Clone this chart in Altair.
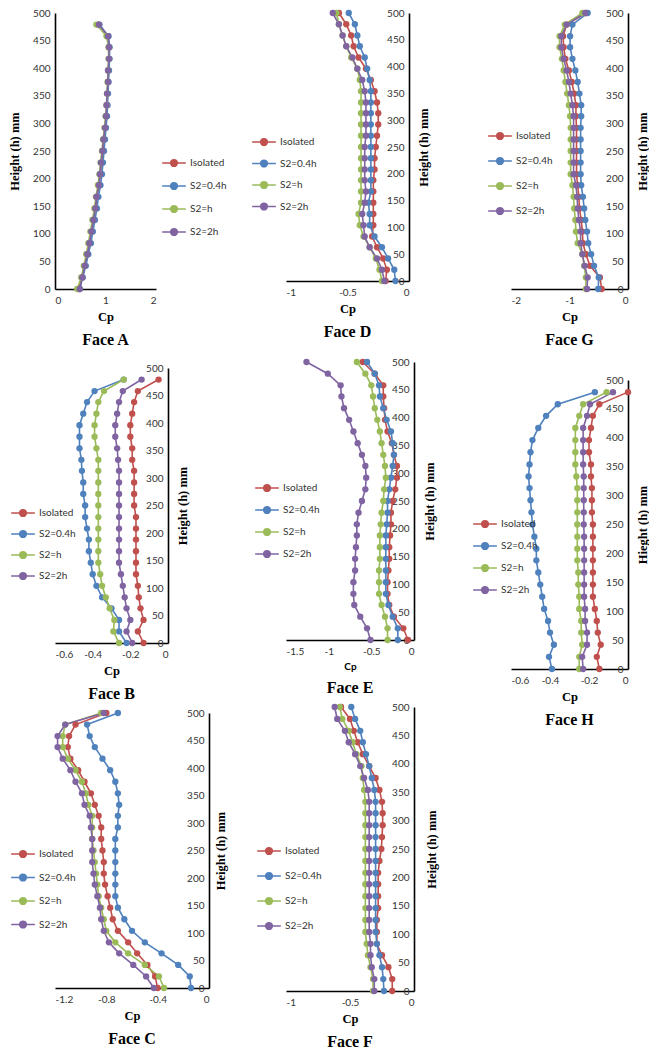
import altair as alt
import pandas as pd

HEIGHTS = [0, 21, 42, 63, 83, 104, 125, 146, 167, 188, 208, 229, 250, 271,
           292, 313, 333, 354, 375, 396, 417, 438, 458, 479, 500]
SERIES = ["Isolated", "S2=0.4h", "S2=h", "S2=2h"]
COLORS = ["#C0504D", "#4F81BD", "#9BBB59", "#8064A2"]
Y_TICKS = [0, 50, 100, 150, 200, 250, 300, 350, 400, 450, 500]

# Face A (0..479)
A_ISO = [0.47, 0.53, 0.58, 0.63, 0.68, 0.72, 0.76, 0.80, 0.83, 0.87, 0.90, 0.92, 0.95, 0.97, 1.00, 1.02, 1.03, 1.04, 1.05, 1.06, 1.07, 1.07, 1.05, 0.86]
A_04 = [0.49, 0.55, 0.61, 0.66, 0.71, 0.75, 0.79, 0.83, 0.86, 0.90, 0.93, 0.95, 0.97, 0.99, 1.01, 1.03, 1.04, 1.05, 1.06, 1.07, 1.08, 1.08, 1.06, 0.88]
A_H = [0.44, 0.52, 0.57, 0.62, 0.66, 0.70, 0.74, 0.78, 0.81, 0.85, 0.88, 0.90, 0.93, 0.95, 0.98, 1.00, 1.02, 1.03, 1.04, 1.05, 1.06, 1.06, 1.02, 0.82]
A_2H = [0.49, 0.54, 0.59, 0.64, 0.68, 0.72, 0.76, 0.80, 0.82, 0.87, 0.89, 0.91, 0.94, 0.96, 0.99, 1.01, 1.02, 1.03, 1.05, 1.05, 1.07, 1.07, 1.05, 0.87]

# Face D (0..500)
D_ISO = [-0.19, -0.18, -0.21, -0.26, -0.30, -0.29, -0.29, -0.29, -0.29, -0.29, -0.28, -0.28, -0.27, -0.26, -0.25, -0.25, -0.26, -0.28, -0.31, -0.35, -0.41, -0.45, -0.47, -0.51, -0.57]
D_04 = [-0.11, -0.12, -0.17, -0.22, -0.28, -0.32, -0.32, -0.33, -0.31, -0.31, -0.31, -0.31, -0.31, -0.31, -0.31, -0.31, -0.31, -0.31, -0.32, -0.34, -0.36, -0.40, -0.42, -0.44, -0.49]
D_H = [-0.22, -0.24, -0.27, -0.32, -0.37, -0.40, -0.41, -0.39, -0.39, -0.39, -0.39, -0.39, -0.39, -0.39, -0.39, -0.39, -0.39, -0.39, -0.40, -0.42, -0.47, -0.51, -0.54, -0.57, -0.59]
D_2H = [-0.20, -0.22, -0.26, -0.32, -0.36, -0.37, -0.38, -0.36, -0.35, -0.36, -0.36, -0.36, -0.36, -0.35, -0.35, -0.35, -0.35, -0.36, -0.38, -0.42, -0.46, -0.51, -0.54, -0.57, -0.62]

# Face G (0..500)
G_ISO = [-0.45, -0.48, -0.65, -0.72, -0.77, -0.78, -0.80, -0.83, -0.84, -0.86, -0.88, -0.88, -0.88, -0.88, -0.88, -0.89, -0.89, -0.92, -0.96, -1.01, -1.07, -1.10, -1.11, -1.05, -0.72]
G_04 = [-0.51, -0.50, -0.58, -0.63, -0.68, -0.70, -0.73, -0.75, -0.77, -0.80, -0.81, -0.81, -0.81, -0.81, -0.81, -0.80, -0.80, -0.83, -0.86, -0.90, -0.95, -0.99, -0.99, -0.95, -0.69]
G_H = [-0.72, -0.72, -0.75, -0.78, -0.86, -0.89, -0.90, -0.92, -0.93, -0.95, -0.98, -0.98, -0.98, -0.98, -0.98, -0.99, -1.01, -1.04, -1.07, -1.10, -1.13, -1.17, -1.17, -1.08, -0.78]
G_2H = [-0.70, -0.69, -0.74, -0.78, -0.81, -0.81, -0.84, -0.86, -0.87, -0.89, -0.93, -0.93, -0.93, -0.93, -0.93, -0.93, -0.95, -0.98, -1.01, -1.05, -1.10, -1.14, -1.14, -1.05, -0.73]

# Face B (0..479)
B_ISO = [-0.13, -0.16, -0.13, -0.146, -0.155, -0.16, -0.17, -0.17, -0.17, -0.17, -0.17, -0.17, -0.18, -0.18, -0.18, -0.18, -0.19, -0.19, -0.20, -0.20, -0.19, -0.18, -0.16, -0.05]
B_04 = [-0.22, -0.26, -0.26, -0.30, -0.35, -0.38, -0.40, -0.41, -0.42, -0.42, -0.43, -0.44, -0.44, -0.45, -0.45, -0.457, -0.46, -0.47, -0.47, -0.47, -0.45, -0.43, -0.39, -0.235]
B_H = [-0.26, -0.29, -0.285, -0.31, -0.33, -0.35, -0.36, -0.37, -0.37, -0.37, -0.37, -0.37, -0.37, -0.37, -0.37, -0.37, -0.37, -0.38, -0.39, -0.39, -0.38, -0.37, -0.34, -0.235]
B_2H = [-0.19, -0.22, -0.20, -0.22, -0.23, -0.24, -0.25, -0.26, -0.26, -0.26, -0.26, -0.26, -0.26, -0.26, -0.26, -0.26, -0.265, -0.27, -0.28, -0.28, -0.27, -0.26, -0.24, -0.14]

# Face E (0..500)
E_ISO = [-0.07, -0.125, -0.235, -0.29, -0.31, -0.31, -0.30, -0.29, -0.29, -0.28, -0.27, -0.27, -0.25, -0.22, -0.20, -0.20, -0.235, -0.26, -0.31, -0.34, -0.35, -0.36, -0.36, -0.46, -0.60]
E_04 = [-0.19, -0.19, -0.25, -0.30, -0.33, -0.33, -0.33, -0.33, -0.33, -0.33, -0.32, -0.31, -0.31, -0.29, -0.27, -0.25, -0.235, -0.25, -0.27, -0.32, -0.36, -0.40, -0.41, -0.46, -0.55]
E_H = [-0.31, -0.31, -0.34, -0.38, -0.41, -0.41, -0.41, -0.40, -0.40, -0.40, -0.39, -0.38, -0.36, -0.35, -0.33, -0.34, -0.36, -0.38, -0.40, -0.43, -0.46, -0.48, -0.50, -0.57, -0.67]
E_2H = [-0.51, -0.55, -0.63, -0.70, -0.71, -0.71, -0.69, -0.69, -0.68, -0.67, -0.67, -0.65, -0.61, -0.57, -0.56, -0.57, -0.61, -0.66, -0.71, -0.76, -0.82, -0.85, -0.86, -1.01, -1.26]

# Face H (0..479)
H_ISO = [-0.147, -0.16, -0.14, -0.155, -0.16, -0.17, -0.18, -0.18, -0.18, -0.18, -0.18, -0.18, -0.18, -0.185, -0.185, -0.185, -0.19, -0.19, -0.20, -0.20, -0.19, -0.18, -0.147, 0.0]
H_04 = [-0.39, -0.405, -0.38, -0.40, -0.41, -0.43, -0.44, -0.45, -0.46, -0.47, -0.47, -0.48, -0.49, -0.495, -0.50, -0.505, -0.51, -0.505, -0.50, -0.49, -0.46, -0.42, -0.36, -0.17]
H_H = [-0.25, -0.25, -0.235, -0.24, -0.24, -0.25, -0.25, -0.255, -0.255, -0.26, -0.26, -0.26, -0.26, -0.26, -0.26, -0.26, -0.265, -0.27, -0.27, -0.27, -0.27, -0.25, -0.23, -0.11]
H_2H = [-0.23, -0.235, -0.21, -0.21, -0.22, -0.22, -0.225, -0.225, -0.225, -0.225, -0.225, -0.225, -0.227, -0.227, -0.227, -0.227, -0.227, -0.23, -0.23, -0.23, -0.23, -0.21, -0.195, -0.077]

# Face C (0..500)
C_ISO = [-0.40, -0.42, -0.48, -0.56, -0.63, -0.71, -0.75, -0.77, -0.79, -0.81, -0.82, -0.82, -0.83, -0.84, -0.84, -0.86, -0.89, -0.92, -0.97, -1.02, -1.08, -1.10, -1.09, -1.04, -0.80]
C_04 = [-0.14, -0.15, -0.24, -0.37, -0.50, -0.60, -0.66, -0.71, -0.73, -0.73, -0.73, -0.73, -0.73, -0.73, -0.71, -0.71, -0.70, -0.71, -0.73, -0.77, -0.83, -0.89, -0.93, -0.95, -0.71]
C_H = [-0.35, -0.39, -0.50, -0.63, -0.73, -0.80, -0.82, -0.84, -0.86, -0.87, -0.88, -0.89, -0.90, -0.91, -0.91, -0.91, -0.94, -0.96, -0.99, -1.04, -1.10, -1.14, -1.14, -1.12, -0.84]
C_2H = [-0.43, -0.49, -0.59, -0.70, -0.78, -0.82, -0.84, -0.85, -0.87, -0.89, -0.90, -0.91, -0.91, -0.91, -0.92, -0.93, -0.97, -0.99, -1.04, -1.08, -1.14, -1.18, -1.18, -1.12, -0.82]

# Face F (0..500)
F_ISO = [-0.17, -0.17, -0.20, -0.25, -0.29, -0.29, -0.29, -0.28, -0.28, -0.28, -0.28, -0.27, -0.255, -0.25, -0.245, -0.245, -0.25, -0.27, -0.30, -0.35, -0.40, -0.44, -0.47, -0.50, -0.57]
F_04 = [-0.235, -0.24, -0.25, -0.27, -0.29, -0.30, -0.30, -0.30, -0.30, -0.30, -0.30, -0.30, -0.30, -0.30, -0.30, -0.30, -0.30, -0.31, -0.33, -0.35, -0.375, -0.40, -0.42, -0.46, -0.49]
F_H = [-0.32, -0.32, -0.34, -0.36, -0.37, -0.38, -0.38, -0.38, -0.38, -0.38, -0.38, -0.38, -0.38, -0.38, -0.38, -0.38, -0.38, -0.39, -0.40, -0.41, -0.45, -0.48, -0.51, -0.56, -0.58]
F_2H = [-0.31, -0.31, -0.33, -0.34, -0.34, -0.35, -0.35, -0.35, -0.35, -0.35, -0.35, -0.35, -0.35, -0.35, -0.35, -0.35, -0.35, -0.36, -0.39, -0.42, -0.46, -0.51, -0.54, -0.60, -0.62]

SANS = "Lato"
SERIF = "Liberation Serif"
LEG_SYMBOL = "M-1,0L1,0M-0.28,0A0.28,0.28,0,1,1,0.28,0A0.28,0.28,0,1,1,-0.28,0Z"
LABEL_FMT = "replace(format(datum.value, '~g'), '\u2212', '-')"
INDEP = dict(color="independent", x="independent", y="independent")


def panel(name, series_vals, xdom, xticks, w, h, side, ytitle, lx, ly,
          row_pad, cp_sans=False, title_x=14):
    rows = []
    for s, vals in zip(SERIES, series_vals):
        for hh, cp in zip(HEIGHTS, vals):
            rows.append({"s": s, "h": hh, "cp": cp})
    df = pd.DataFrame(rows)

    x_axis = alt.Axis(
        values=xticks, title="Cp", ticks=False, grid=False,
        domainColor="black", domainWidth=1.6,
        labelFont=SANS, labelFontSize=10, labelColor="#333333",
        labelPadding=6, labelExpr=LABEL_FMT,
        titleFont=SANS if cp_sans else SERIF,
        titleFontSize=10 if cp_sans else 12.5,
        titleFontWeight="bold", titleColor="black", titlePadding=5,
    )
    if side == "left":
        y_axis = alt.Axis(
            orient="left", values=Y_TICKS, title=ytitle, ticks=False, grid=False,
            domainColor="black", domainWidth=1.6,
            labelFont=SANS, labelFontSize=10, labelColor="#333333", labelPadding=5,
            titleFont=SERIF, titleFontSize=12.5, titleFontWeight="bold",
            titleColor="black", titlePadding=11,
        )
    else:
        y_axis = alt.Axis(
            orient="right", values=Y_TICKS, title=ytitle, ticks=False, grid=False,
            domainColor="black", domainWidth=1.6,
            labelFont=SANS, labelFontSize=10, labelColor="#333333",
            labelAlign="right", labelPadding=-5,
            titleFont=SERIF, titleFontSize=12.5, titleFontWeight="bold",
            titleColor="black", titleAngle=270, titleX=title_x, titleY=h / 2,
            titleAlign="center", titleBaseline="middle",
        )

    legend = alt.Legend(
        title=None, orient="none", legendX=lx, legendY=ly,
        symbolType=LEG_SYMBOL, symbolSize=560, symbolStrokeWidth=1.6,
        labelFont=SANS, labelFontSize=10, labelColor="#333333",
        labelOffset=3, rowPadding=row_pad, padding=0,
    )
    base = alt.Chart(df).encode(
        x=alt.X("cp:Q", scale=alt.Scale(domain=xdom, nice=False, zero=False), axis=x_axis),
        y=alt.Y("h:Q", scale=alt.Scale(domain=[0, 500], nice=False), axis=y_axis),
        color=alt.Color("s:N", scale=alt.Scale(domain=SERIES, range=COLORS), legend=legend),
    )
    lines = base.mark_line(strokeWidth=1.6).encode(order="h:Q")
    pts = base.mark_circle(size=40, opacity=1)
    return alt.layer(lines, pts).properties(
        width=w, height=h,
        title=alt.TitleParams(
            f"Face {name}", orient="bottom", anchor="middle", frame="group",
            font=SERIF, fontSize=16, fontWeight="bold", color="black", offset=9,
        ),
    )


pA = panel("A", [A_ISO, A_04, A_H, A_2H], [0, 2], [0, 1, 2], 101, 276, "left",
           "Height (h) mm", 106, 137, 3)
pB = panel("B", [B_ISO, B_04, B_H, B_2H], [-0.6, 0], [-0.6, -0.4, -0.2, 0], 113, 275, "right",
           "Height (h) mm", -45, 132, 1)
pC = panel("C", [C_ISO, C_04, C_H, C_2H], [-1.2, 0], [-1.2, -0.8, -0.4, 0], 154, 275, "right",
           "Height (h) mm", -45, 128, 3.5, title_x=11)
pD = panel("D", [D_ISO, D_04, D_H, D_2H], [-1, 0], [-1, -0.5, 0], 123, 268, "right",
           "Height (h) mm", -35, 116, 1.5)
pE = panel("E", [E_ISO, E_04, E_H, E_2H], [-1.5, 0], [-1.5, -1, -0.5, 0], 128, 278, "right",
           "Height (h) mm", -32, 113, 2, cp_sans=True, title_x=15)
pF = panel("F", [F_ISO, F_04, F_H, F_2H], [-1, 0], [-1, -0.5, 0], 128, 284, "right",
           "Height (h) mm", -30, 131, 5, title_x=17)
pG = panel("G", [G_ISO, G_04, G_H, G_2H], [-2, 0], [-2, -1, 0], 117, 276, "right",
           "Height (h) mm", -24, 110, 5)
pH = panel("H", [H_ISO, H_04, H_H, H_2H], [-0.6, 0], [-0.6, -0.4, -0.2, 0], 117, 289, "right",
           "Hieght (h) mm", -39, 131, 2)

col1 = alt.vconcat(
    pA, alt.vconcat(pB, pC, spacing=6).resolve_scale(**INDEP), spacing=15
).resolve_scale(**INDEP)
col2 = alt.vconcat(
    pD, alt.vconcat(pE, pF, spacing=6).resolve_scale(**INDEP), spacing=17
).resolve_scale(**INDEP)
col3 = alt.vconcat(pG, pH, spacing=27).resolve_scale(**INDEP)

right_part = alt.hconcat(col2, col3, spacing=34).resolve_scale(**INDEP)

chart = alt.hconcat(col1, right_part, spacing=24).resolve_scale(**INDEP).properties(
    padding=0, background="white"
).configure_view(strokeWidth=0, stroke="transparent")

chart.save("out.html", embed_options={"renderer": "svg", "actions": False})
